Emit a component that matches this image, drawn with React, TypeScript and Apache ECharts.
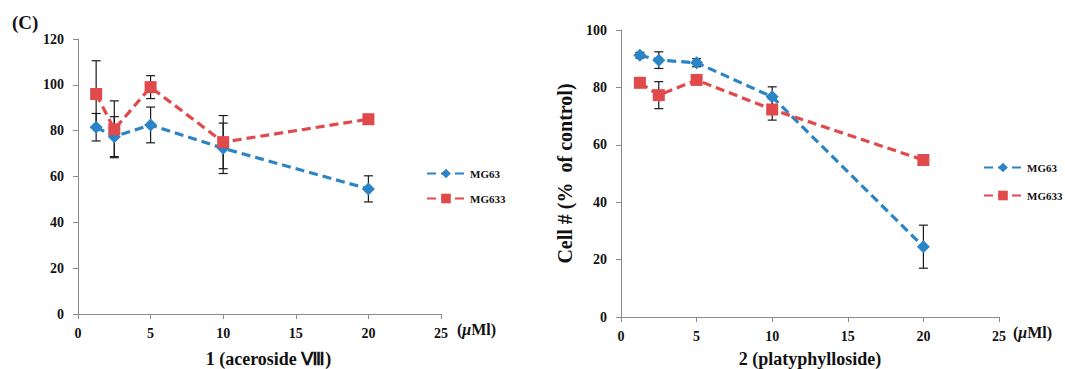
import React, { useEffect, useRef } from "react";
import * as echarts from "echarts";

const doses = [1.25, 2.5, 5, 10, 20];
const xTicks = [0, 25, 5];

const mg63Left = [81.5, 77.4, 82.5, 72.3, 54.6];
const mg63LeftErr = [6, 8.7, 7.8, 11, 5.7];
const mg633Left = [96, 80.6, 99, 75, 85];
const mg633LeftErr = [14.5, 12.4, 5, 11.6, 1.5];

const mg63Right = [91.2, 89.5, 88.6, 76.7, 24.5];
const mg63RightErr = [1, 2.9, 1.4, 3.5, 7.5];
const mg633Right = [81.6, 77.3, 82.6, 72.3, 54.7];
const mg633RightErr = [1, 4.7, 1, 3.7, 1.8];

const seriesNames = ["MG63", "MG633"];
const leftTitle = "1 (aceroside Ⅷ)";
const rightTitle = "2 (platyphylloside)";
const rightYTitle = "Cell # (%  of control)";
const panelLabel = "(C)";

const BLUE = "#2b84c6";
const RED = "#e04a4a";
const AXIS = "#8a8a8a";
const FONT = "Liberation Serif";

function pts(vals: number[]) {
  return doses.map((d, i) => [d, vals[i]]);
}
function errs(vals: number[], e: number[]) {
  return doses.map((d, i) => [d, vals[i] - e[i], vals[i] + e[i]]);
}

const errRender = (params: any, api: any) => {
  const x = api.value(0);
  const lo = api.coord([x, api.value(1)]);
  const hi = api.coord([x, api.value(2)]);
  const c = 4.5;
  const st = { stroke: "#1a1a1a", lineWidth: 1.2 };
  return {
    type: "group",
    children: [
      { type: "line", shape: { x1: lo[0], y1: lo[1], x2: hi[0], y2: hi[1] }, style: st },
      { type: "line", shape: { x1: lo[0] - c, y1: lo[1], x2: lo[0] + c, y2: lo[1] }, style: st },
      { type: "line", shape: { x1: hi[0] - c, y1: hi[1], x2: hi[0] + c, y2: hi[1] }, style: st },
    ],
  };
};

function lineSeries(name: string, data: number[], idx: number, color: string, symbol: string, size: number) {
  return {
    type: "line",
    name,
    xAxisIndex: idx,
    yAxisIndex: idx,
    data: pts(data),
    symbol,
    symbolSize: size,
    lineStyle: { color, width: 3.2, type: [9, 5] },
    itemStyle: { color },
    z: 3,
  };
}

function errSeries(data: number[], e: number[], idx: number) {
  return {
    type: "custom",
    xAxisIndex: idx,
    yAxisIndex: idx,
    data: errs(data, e),
    encode: { x: 0, y: [1, 2] },
    renderItem: errRender,
    z: 2,
    silent: true,
  };
}

const labelStyle = { fontFamily: FONT, fontWeight: "bold", fontSize: 14, color: "#111" };

function xAxis(idx: number, title: string, gap: number, shift: number) {
  return {
    type: "value",
    gridIndex: idx,
    min: xTicks[0],
    max: xTicks[1],
    interval: xTicks[2],
    axisLine: { lineStyle: { color: AXIS, width: 1 } },
    axisTick: { show: true, length: 5, lineStyle: { color: AXIS } },
    splitLine: { show: false },
    axisLabel: { ...labelStyle, margin: 12 },
    name: title,
    nameLocation: "middle",
    nameGap: gap,
    nameTextStyle: {
      fontFamily: FONT,
      fontWeight: "bold",
      fontSize: 18,
      lineHeight: 18,
      color: "#111",
      padding: [0, 0, 0, shift],
    },
  };
}

function yAxis(idx: number, max: number, name?: string) {
  return {
    type: "value",
    gridIndex: idx,
    min: 0,
    max,
    interval: 20,
    axisLine: { show: true, lineStyle: { color: AXIS, width: 1 } },
    axisTick: { show: true, length: 5, lineStyle: { color: AXIS } },
    splitLine: { show: false },
    axisLabel: { ...labelStyle, margin: 14 },
    name: name || "",
    nameLocation: "middle",
    nameGap: 46,
    nameTextStyle: { fontFamily: FONT, fontWeight: "bold", fontSize: 20, color: "#111" },
  };
}

function legend(left: number, top: number, gap: number) {
  return {
    data: seriesNames,
    orient: "vertical",
    left,
    top,
    itemWidth: 38,
    itemHeight: 12,
    itemGap: gap,
    selectedMode: false,
    textStyle: { fontFamily: FONT, fontWeight: "bold", fontSize: 11, color: "#111", padding: [0, 0, 0, 0] },
  };
}

function muText(x: number, y: number) {
  return {
    type: "text",
    left: x,
    top: y,
    style: {
      text: "{a|(}{b|μ}{a|Ml)}",
      rich: {
        a: { fontFamily: FONT, fontWeight: "bold", fontSize: 16, fill: "#111" },
        b: { fontFamily: FONT, fontWeight: "bold", fontStyle: "italic", fontSize: 16, fill: "#111" },
      },
    },
  };
}

export default function App() {
  const ref = useRef<HTMLDivElement>(null);
  useEffect(() => {
    if (!ref.current) return;
    const chart = echarts.init(ref.current, undefined, { renderer: "svg" });
    chart.setOption({
      animation: false,
      backgroundColor: "#ffffff",
      grid: [
        { left: 78, top: 39, width: 363, height: 275, containLabel: false, outerBoundsMode: "none" },
        { left: 621, top: 30, width: 378, height: 287, containLabel: false, outerBoundsMode: "none" },
      ],
      xAxis: [xAxis(0, leftTitle, 36, 18), xAxis(1, rightTitle, 33, 0)],
      yAxis: [yAxis(0, 120), yAxis(1, 100, rightYTitle)],
      legend: [legend(421, 163, 14), legend(978, 157, 17)],
      graphic: [
        {
          type: "text",
          left: 12,
          top: 13,
          style: { text: panelLabel, fontFamily: FONT, fontWeight: "bold", fontSize: 19, fill: "#111" },
        },
        muText(457, 321),
        muText(1013, 324),
      ],
      series: [
        errSeries(mg633Left, mg633LeftErr, 0),
        errSeries(mg63Left, mg63LeftErr, 0),
        lineSeries(seriesNames[0], mg63Left, 0, BLUE, "diamond", 13),
        lineSeries(seriesNames[1], mg633Left, 0, RED, "rect", 12),
        errSeries(mg633Right, mg633RightErr, 1),
        errSeries(mg63Right, mg63RightErr, 1),
        lineSeries(seriesNames[0], mg63Right, 1, BLUE, "diamond", 13),
        lineSeries(seriesNames[1], mg633Right, 1, RED, "rect", 12),
      ],
    });
    return () => chart.dispose();
  }, []);
  return (
    <div
      ref={ref}
      style={{ position: "fixed", left: 0, top: 0, width: 1065, height: 369, background: "#fff" }}
    />
  );
}
